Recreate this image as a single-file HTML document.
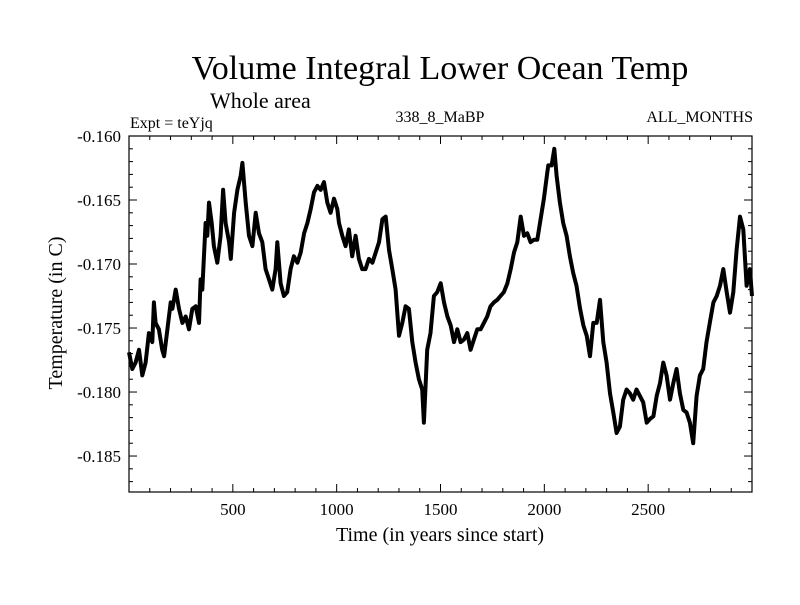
<!DOCTYPE html>
<html><head><meta charset="utf-8">
<style>
body{margin:0;background:#fff;}
svg text{font-family:"Liberation Serif",serif;fill:#000;}
</style></head>
<body>
<svg id="chart" width="800" height="600" xmlns="http://www.w3.org/2000/svg">
<rect width="800" height="600" fill="#fff"/>
<text x="440" y="79" font-size="34" text-anchor="middle">Volume Integral Lower Ocean Temp</text>
<text x="210" y="108" font-size="22">Whole area</text>
<text x="130" y="128" font-size="16">Expt = teYjq</text>
<text x="440" y="122" font-size="16" text-anchor="middle">338_8_MaBP</text>
<text x="753" y="122" font-size="16" text-anchor="end">ALL_MONTHS</text>
<text transform="translate(62,313) rotate(-90)" font-size="20" text-anchor="middle">Temperature (in C)</text>
<text x="440" y="541" font-size="20" text-anchor="middle">Time (in years since start)</text>
<g id="ticks"></g>
<path id="series" fill="none" stroke="#000" stroke-width="4" stroke-linejoin="round"/>
<rect x="129" y="136" width="623" height="356" fill="none" stroke="#000" stroke-width="1.2"/>
</svg>
<script>
const years=[0,16,32,48,64,80,96,112,120,128,144,160,169,185,201,209,225,241,257,273,289,305,321,337,345,353,369,377,385,398,409,425,441,453,465,482,490,506,522,538,546,562,578,594,610,626,642,658,674,690,706,714,730,746,762,778,794,811,827,843,859,875,891,907,923,939,955,971,987,1003,
1011,1027,1043,1059,1075,1091,1107,1123,1139,1155,1172,1188,1204,1220,1236,1252,1268,1284,1300,1316,1332,1348,1364,1380,1396,1412,1420,1436,1452,1468,1484,1501,1517,1533,1549,1565,1581,1597,1613,1629,1645,1661,1677,1693,1709,1725,1741,1757,1773,1789,1805,1822,1838,1854,1870,1886,1902,1918,1934,1950,1966,1982,1998,2014,
2019,2035,2048,2059,2075,2091,2107,2123,2139,2155,2172,2188,2204,2220,2236,2252,2268,2284,2300,2316,2332,2348,2364,2380,2396,2412,2428,2444,2460,2476,2493,2509,2525,2541,2557,2573,2589,2605,2621,2637,2653,2669,2685,2701,2717,2733,2749,2765,2781,2797,2814,2830,2846,2862,2878,2894,2910,2926,2942,2958,2974,2990,3000];
const temps=[-0.1769,-0.1782,-0.1777,-0.1767,-0.1787,-0.1777,-0.1754,-0.1761,-0.1730,-0.1746,-0.1751,-0.1767,-0.1772,-0.1751,-0.1730,-0.1735,-0.1720,-0.1735,-0.1746,-0.1741,-0.1751,-0.1735,-0.1733,-0.1746,-0.1712,-0.1720,-0.1668,-0.1678,-0.1652,-0.1668,-0.1686,-0.1699,-0.1678,-0.1642,-0.1668,-0.1683,-0.1696,-0.1660,-0.1642,-0.1631,-0.1621,-0.1652,-0.1678,-0.1686,-0.1660,-0.1676,-0.1683,-0.1704,-0.1712,-0.1720,-0.1704,-0.1683,-0.1715,-0.1725,-0.1722,-0.1704,-0.1694,-0.1699,-0.1691,-0.1676,-0.1668,-0.1657,-0.1644,-0.1639,-0.1642,-0.1636,-0.1652,-0.1660,-0.1649,-0.1657,
-0.1668,-0.1678,-0.1686,-0.1673,-0.1694,-0.1678,-0.1696,-0.1704,-0.1704,-0.1696,-0.1699,-0.1691,-0.1683,-0.1665,-0.1663,-0.1689,-0.1704,-0.1720,-0.1756,-0.1746,-0.1733,-0.1735,-0.1761,-0.1777,-0.1790,-0.1798,-0.1824,-0.1767,-0.1754,-0.1725,-0.1722,-0.1715,-0.1730,-0.1741,-0.1748,-0.1761,-0.1751,-0.1761,-0.1759,-0.1754,-0.1767,-0.1759,-0.1751,-0.1751,-0.1746,-0.1741,-0.1733,-0.1730,-0.1728,-0.1725,-0.1722,-0.1715,-0.1704,-0.1691,-0.1683,-0.1663,-0.1678,-0.1676,-0.1683,-0.1681,-0.1681,-0.1665,-0.1649,-0.1629,
-0.1623,-0.1623,-0.1610,-0.1631,-0.1652,-0.1668,-0.1678,-0.1694,-0.1707,-0.1717,-0.1735,-0.1748,-0.1756,-0.1772,-0.1746,-0.1746,-0.1728,-0.1761,-0.1777,-0.1801,-0.1816,-0.1832,-0.1827,-0.1806,-0.1798,-0.1801,-0.1806,-0.1798,-0.1803,-0.1808,-0.1824,-0.1821,-0.1819,-0.1803,-0.1793,-0.1777,-0.1787,-0.1806,-0.1793,-0.1782,-0.1801,-0.1814,-0.1816,-0.1824,-0.1840,-0.1803,-0.1787,-0.1782,-0.1761,-0.1746,-0.1730,-0.1725,-0.1717,-0.1704,-0.1722,-0.1738,-0.1722,-0.1689,-0.1663,-0.1673,-0.1717,-0.1704,-0.1725];
const xTickLabels=[500,1000,1500,2000,2500];
const yTickLabels=[-0.160,-0.165,-0.170,-0.175,-0.180,-0.185];
const X0=129,X1=752,Y0=136,Y1=492,XMIN=0,XMAX=3000,YMAX=-0.160,YMIN=-0.18781;
const xs=v=>X0+(v-XMIN)/(XMAX-XMIN)*(X1-X0);
const ys=v=>Y0+(YMAX-v)/(YMAX-YMIN)*(Y1-Y0);
const NS='http://www.w3.org/2000/svg';
const g=document.getElementById('ticks');
function line(x1,y1,x2,y2,name){const l=document.createElementNS(NS,'line');
l.setAttribute('x1',x1);l.setAttribute('y1',y1);l.setAttribute('x2',x2);l.setAttribute('y2',y2);
l.setAttribute('stroke','#000');l.setAttribute('stroke-width','1');


g.appendChild(l);}
for(let v=100;v<XMAX;v+=100){const x=xs(v);const L=(v%500===0)?8:4;
line(x,Y1,x,Y1-L,'x-tick');line(x,Y0,x,Y0+L,'x-tick-top');}
for(let k=1;k<28;k++){const v=YMAX-k*0.001;const y=ys(v);const L=(k%5===0)?8:4;
line(X0,y,X0+L,y,'y-tick');line(X1,y,X1-L,y,'y-tick-right');}
xTickLabels.forEach(v=>{const t=document.createElementNS(NS,'text');
t.setAttribute('x',xs(v));t.setAttribute('y',515);t.setAttribute('font-size','17');t.setAttribute('text-anchor','middle');
t.textContent=v;


g.appendChild(t);});
yTickLabels.forEach(v=>{const t=document.createElementNS(NS,'text');
t.setAttribute('x',121);t.setAttribute('y',ys(v)+6);t.setAttribute('font-size','17');t.setAttribute('text-anchor','end');
t.textContent=v.toFixed(3);


g.appendChild(t);});
let d='';years.forEach((yr,i)=>{d+=(i?'L':'M')+xs(yr).toFixed(1)+','+ys(temps[i]).toFixed(1);});
document.getElementById('series').setAttribute('d',d);
</script>
</body></html>
